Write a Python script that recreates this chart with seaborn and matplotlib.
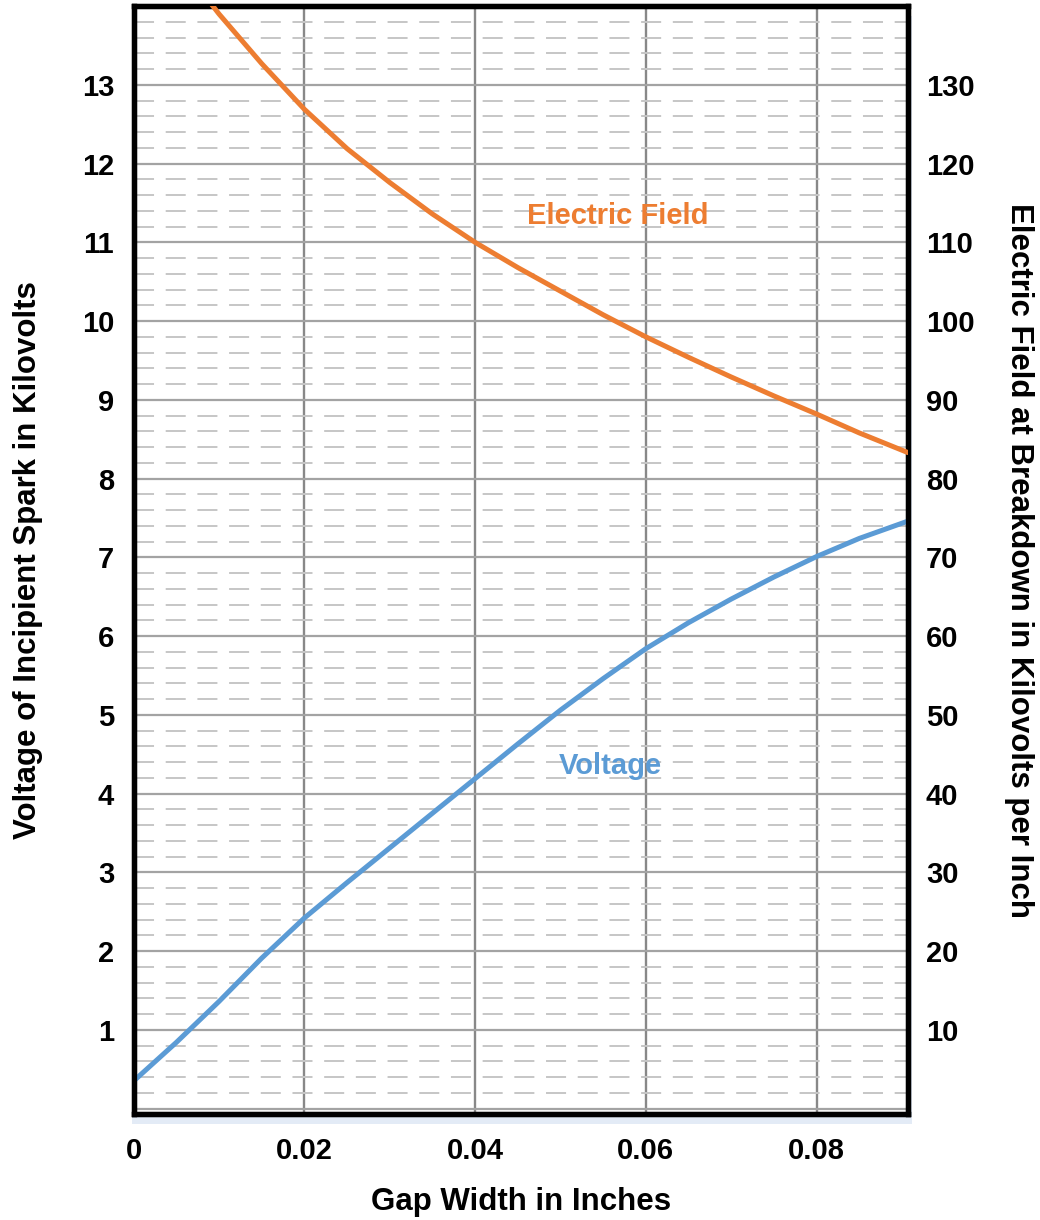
import numpy as np
import pandas as pd
import matplotlib
matplotlib.use("Agg")
import matplotlib.pyplot as plt
from matplotlib.patches import Rectangle
from matplotlib.ticker import FixedLocator, FixedFormatter, MultipleLocator
import seaborn as sns

# Spark-gap breakdown data
gap_in_voltage = [0.0, 0.005, 0.01, 0.015, 0.02, 0.025, 0.03, 0.035, 0.04, 0.045,
                  0.05, 0.055, 0.06, 0.065, 0.07, 0.075, 0.08, 0.085, 0.0907]
voltage_kv = [0.35, 0.84, 1.36, 1.91, 2.42, 2.87, 3.31, 3.75, 4.19, 4.63,
              5.06, 5.46, 5.84, 6.17, 6.47, 6.75, 7.01, 7.24, 7.46]

gap_in_field = [0.009, 0.01, 0.015, 0.02, 0.025, 0.03, 0.035, 0.04, 0.045, 0.05,
                0.055, 0.06, 0.065, 0.07, 0.075, 0.08, 0.085, 0.0907]
field_kv_per_in = [140.4, 139.0, 132.7, 126.9, 121.9, 117.6, 113.6, 110.0, 106.8, 103.8,
                   100.8, 98.0, 95.4, 92.9, 90.5, 88.2, 85.8, 83.3]

x_ticks = [0, 0.02, 0.04, 0.06, 0.08]
x_tick_labels = ["0", "0.02", "0.04", "0.06", "0.08"]
left_ticks = list(range(0, 15))
left_tick_labels = [""] + [str(v) for v in range(1, 14)] + [""]
right_ticks = list(range(10, 140, 10))
right_tick_labels = [str(v) for v in right_ticks]

ORANGE = "#ED7D31"
BLUE = "#5B9BD5"

sns.set_theme(style="white")
plt.rcParams["font.family"] = ["Liberation Sans", "DejaVu Sans"]
plt.rcParams["font.weight"] = "bold"
for key in ("text.color", "axes.labelcolor", "xtick.color", "ytick.color"):
    plt.rcParams[key] = "black"

fig = plt.figure(figsize=(10.4, 12.2), dpi=100)
ax_rect = [0.1285, 0.0865, 0.7445, 0.9085]

# soft shadow beneath the plot frame
fig.patches.append(Rectangle((ax_rect[0] - 0.002, ax_rect[1] - 0.008),
                             ax_rect[2] + 0.006, ax_rect[3],
                             transform=fig.transFigure, facecolor="#e3ebf6",
                             edgecolor="none", zorder=-5))

ax = fig.add_axes(ax_rect)
ax.set_facecolor("white")

v_df = pd.DataFrame({"gap": gap_in_voltage, "kv": voltage_kv})
e_df = pd.DataFrame({"gap": gap_in_field, "field": field_kv_per_in})

sns.lineplot(data=v_df, x="gap", y="kv", ax=ax, color=BLUE, linewidth=3.6,
             zorder=5)

ax.set_xlim(0, 0.0907)
ax.set_ylim(-0.075, 14.0)

# grid: solid lines every kV, dashed every 0.2 kV, vertical every 0.02 in
ax.yaxis.set_major_locator(FixedLocator(left_ticks))
ax.yaxis.set_major_formatter(FixedFormatter(left_tick_labels))
ax.yaxis.set_minor_locator(MultipleLocator(0.2))
ax.xaxis.set_major_locator(FixedLocator(x_ticks))
ax.xaxis.set_major_formatter(FixedFormatter(x_tick_labels))
ax.grid(axis="y", which="major", color="#a3a3a3", linewidth=1.6, linestyle="-")
ax.grid(axis="y", which="minor", color="#c6c6c6", linewidth=1.4,
        linestyle=(0, (10.3, 6.0)))
ax.grid(axis="x", which="major", color="#888888", linewidth=1.7, linestyle="-")
ax.set_axisbelow(True)

ax.tick_params(axis="both", which="both", length=0)
ax.tick_params(axis="y", pad=14, labelsize=21)
ax.tick_params(axis="x", pad=16, labelsize=21)
for lab in ax.get_xticklabels() + ax.get_yticklabels():
    lab.set_fontweight("bold")

ax.set_xlabel("Gap Width in Inches", fontsize=22.5, fontweight="bold", labelpad=16)
ax.set_ylabel("Voltage of Incipient Spark in Kilovolts", fontsize=22.5,
              fontweight="bold", labelpad=28)

ax2 = ax.twinx()
sns.lineplot(data=e_df, x="gap", y="field", ax=ax2, color=ORANGE, linewidth=3.6,
             zorder=5)
ax2.set_ylim(-0.75, 140.0)
ax2.set_xlim(0, 0.0907)
ax2.yaxis.set_major_locator(FixedLocator(right_ticks))
ax2.yaxis.set_major_formatter(FixedFormatter(right_tick_labels))
ax2.tick_params(axis="y", length=0, pad=13, labelsize=21)
for lab in ax2.get_yticklabels():
    lab.set_fontweight("bold")
ax2.set_ylabel("Electric Field at Breakdown in Kilovolts per Inch", fontsize=22.5,
               fontweight="bold", rotation=270, labelpad=43)
ax2.grid(False)

for a in (ax, ax2):
    for s in a.spines.values():
        s.set_visible(True)
        s.set_color("black")
        s.set_linewidth(3.8)

ax2.text(0.0567, 113.4, "Electric Field", color=ORANGE, fontsize=21,
         fontweight="bold", ha="center", va="center", zorder=6)
ax.text(0.0559, 4.35, "Voltage", color=BLUE, fontsize=21,
        fontweight="bold", ha="center", va="center", zorder=6)

fig.savefig("out.png", dpi=100, facecolor="white")
